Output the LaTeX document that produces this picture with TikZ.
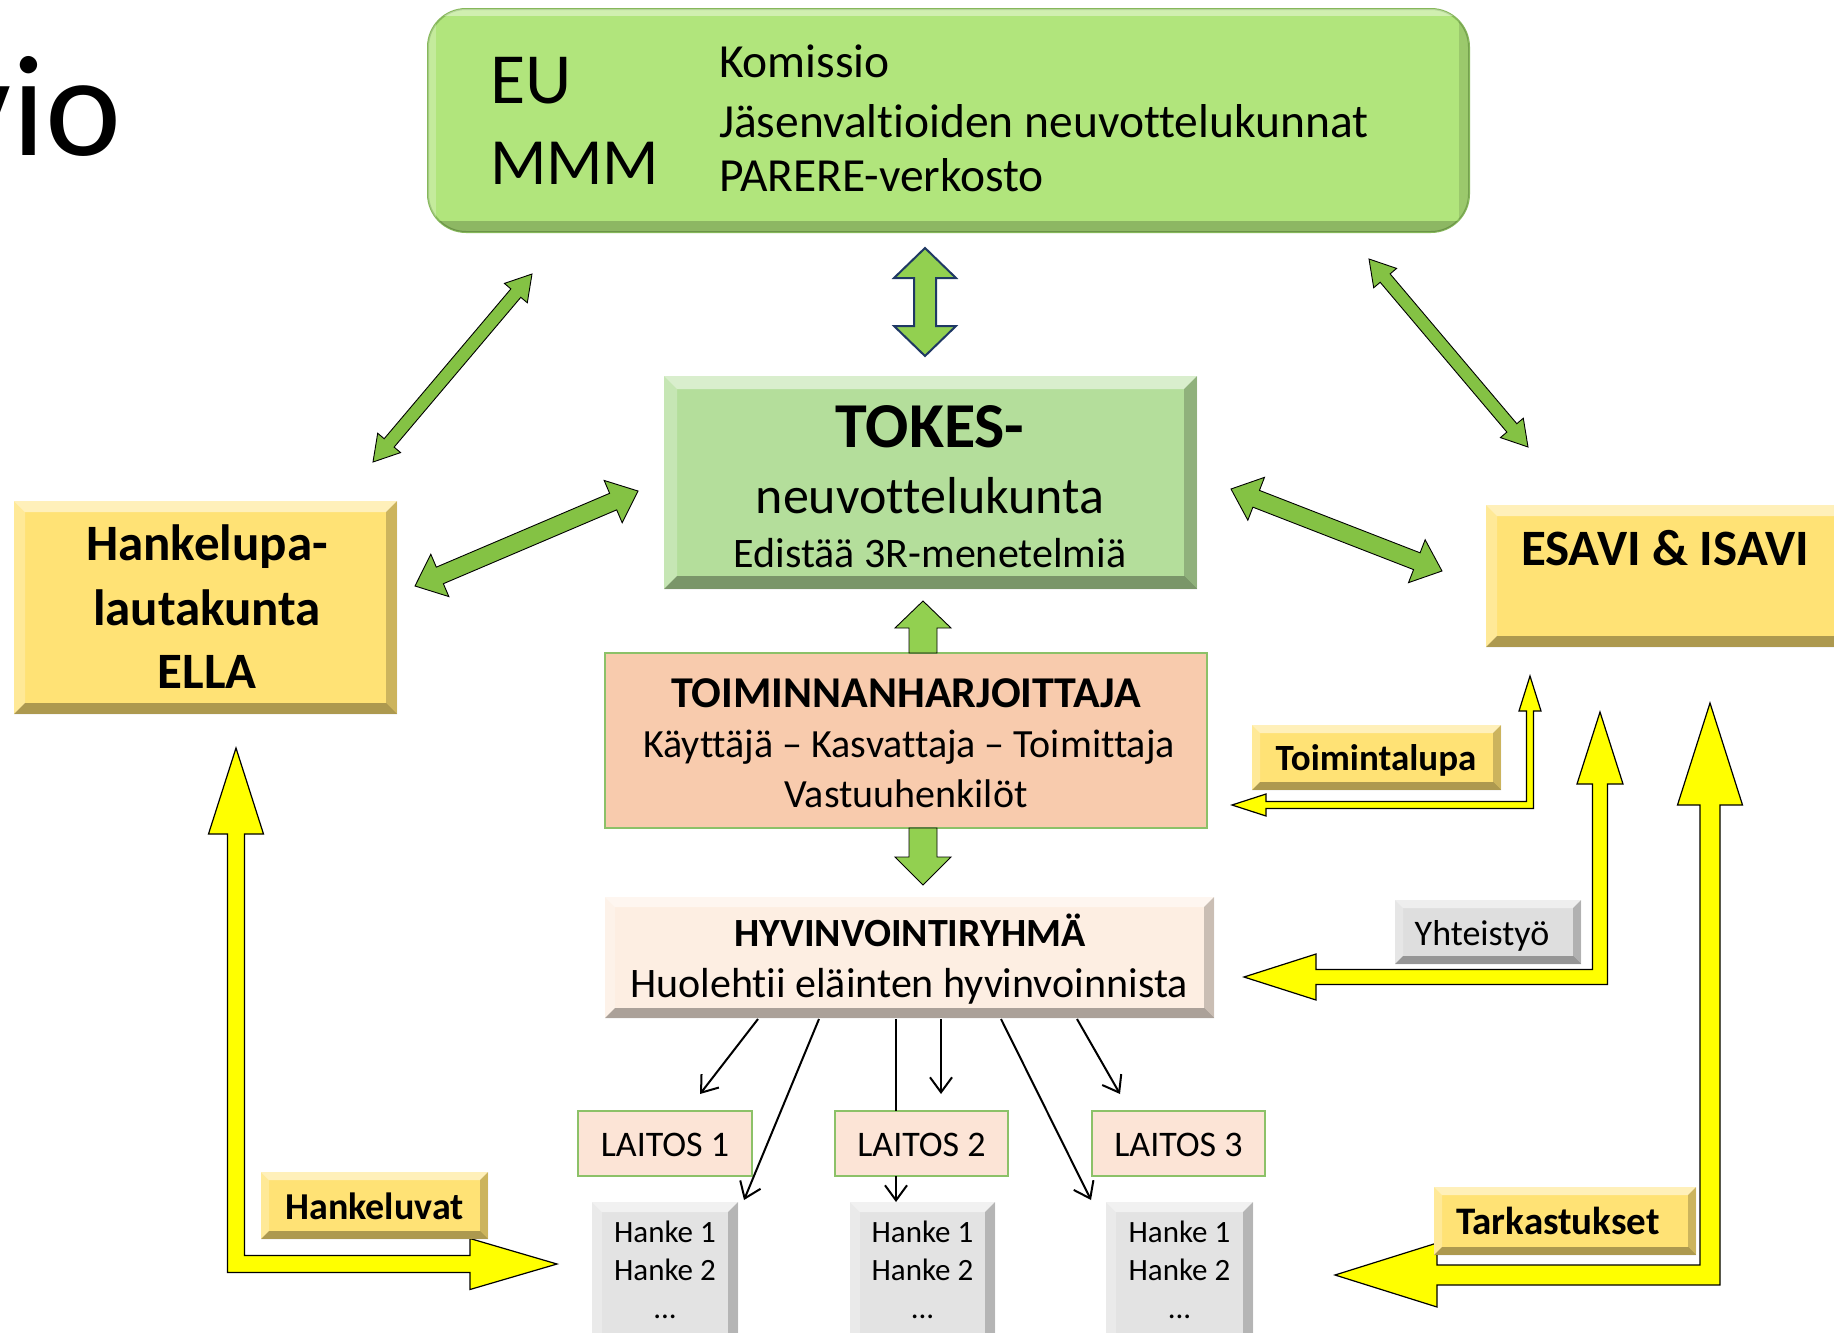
\documentclass[tikz,border=0pt]{standalone}
\usepackage{fontspec}
\setmainfont{Carlito}[Ligatures={NoCommon}]
\usetikzlibrary{calc,arrows.meta}

\definecolor{eugreen}{HTML}{B1E57C}
\definecolor{eudark}{HTML}{86B85A}
\definecolor{tokesgreen}{HTML}{B4DE9B}
\definecolor{arrgreen}{HTML}{84C244}
\definecolor{arrlight}{HTML}{92D050}
\definecolor{navy}{HTML}{1F3864}
\definecolor{gold}{HTML}{FFE275}
\definecolor{peach}{HTML}{F8CBAD}
\definecolor{lightpeach}{HTML}{FCE4D6}
\definecolor{cream}{HTML}{FDEEE2}
\definecolor{boxgreen}{HTML}{8CC168}
\definecolor{hgray}{HTML}{E3E3E3}
\definecolor{ygray}{HTML}{DEDEDE}
\definecolor{yel}{HTML}{FFFF00}

\newcommand\myfs[1]{\fontsize{#1}{#1}\selectfont}

% bevel overlay on a rectangular node
\newcommand\bevel[2]{%
  \fill[white,opacity=.5] (#1.north west) -- (#1.north east) -- ($(#1.north east)+(-#2,#2)$) -- ($(#1.north west)+(#2,#2)$) -- cycle;
  \fill[white,opacity=.25] (#1.north west) -- ($(#1.north west)+(#2,#2)$) -- ($(#1.south west)+(#2,-#2)$) -- (#1.south west) -- cycle;
  \fill[black,opacity=.32] (#1.south west) -- (#1.south east) -- ($(#1.south east)+(-#2,-#2)$) -- ($(#1.south west)+(#2,-#2)$) -- cycle;
  \fill[black,opacity=.2] (#1.north east) -- ($(#1.north east)+(-#2,#2)$) -- ($(#1.south east)+(-#2,-#2)$) -- (#1.south east) -- cycle;
}

% double block arrow: from, to, style, shaft half width, head half width, head length
\newcommand\dblarr[6]{%
  \pgfpointdiff{\pgfpointanchor{#1}{center}}{\pgfpointanchor{#2}{center}}%
  \pgfgetlastxy{\arrdx}{\arrdy}%
  \pgfmathsetmacro\arrlen{veclen(\arrdx,\arrdy)}%
  \pgfmathsetmacro\arrang{atan2(\arrdy,\arrdx)}%
  \begin{scope}[shift={(#1)},rotate=\arrang,x=1pt,y=1pt]
    \draw[#3] (0,0) -- (#6,#5) -- (#6,#4) -- (\arrlen-#6,#4) -- (\arrlen-#6,#5) -- (\arrlen,0)
      -- (\arrlen-#6,-#5) -- (\arrlen-#6,-#4) -- (#6,-#4) -- (#6,-#5) -- cycle;
  \end{scope}
}

% single block arrow: from, to (tip), style, shaft half width, head half width, head length
\newcommand\sglarr[6]{%
  \pgfpointdiff{\pgfpointanchor{#1}{center}}{\pgfpointanchor{#2}{center}}%
  \pgfgetlastxy{\arrdx}{\arrdy}%
  \pgfmathsetmacro\arrlen{veclen(\arrdx,\arrdy)}%
  \pgfmathsetmacro\arrang{atan2(\arrdy,\arrdx)}%
  \begin{scope}[shift={(#1)},rotate=\arrang,x=1pt,y=1pt]
    \draw[#3] (0,#4) -- (\arrlen-#6,#4) -- (\arrlen-#6,#5) -- (\arrlen,0)
      -- (\arrlen-#6,-#5) -- (\arrlen-#6,-#4) -- (0,-#4) -- cycle;
  \end{scope}
}

% elbow block arrow with heads at both ends
\newcommand\yelbow[9]{%
  \draw[yarr] (#1) -- ($(#1)+({(#4)*(#6)},#7)$) -- ($(#1)+({(#4)*(#5)},#7)$)
    -- ($(#2)+({(#4)*(#5)},{-(#5)})$) -- ($(#3)+({-(#4)*(#9)},{-(#5)})$)
    -- ($(#3)+({-(#4)*(#9)},{-(#8)})$) -- (#3) -- ($(#3)+({-(#4)*(#9)},#8)$)
    -- ($(#3)+({-(#4)*(#9)},#5)$) -- ($(#2)+({-(#4)*(#5)},#5)$)
    -- ($(#1)+({-(#4)*(#5)},#7)$) -- ($(#1)+({-(#4)*(#6)},#7)$) -- cycle;
}

\begin{document}
\begin{tikzpicture}[x=1pt,y=-1pt,
  tx/.style={inner sep=0pt, outer sep=0pt, anchor=base},
  box/.style={rectangle, inner sep=0pt, outer sep=0pt},
  flatbox/.style={box, draw=boxgreen, line width=1.2pt},
  garr/.style={fill=arrgreen, draw=black, line width=0.9pt, line join=miter},
  carr/.style={fill=arrlight, draw=navy, line width=2pt, line join=miter},
  varr/.style={fill=arrlight, draw=black, line width=0.9pt, line join=miter},
  yarr/.style={fill=yel, draw=black, line width=1.2pt, line join=miter},
  thinarr/.style={line width=2pt, -{Straight Barb[length=15pt,width=22pt]}},
  thinline/.style={line width=2pt},
]
\useasboundingbox (0,0) rectangle (1834,1333);
\fill[white] (0,0) rectangle (1834,1333);

% title fragment
\node[tx, anchor=base east, font=\myfs{144}] (title) at (121,155) {vio};

% ---------- EU box ----------
\node[box, rounded corners=38pt, fill=eugreen, draw=eudark, line width=2pt,
      minimum width=1041pt, minimum height=223pt] (eu) at (948.5,120.5) {};
\begin{scope}
  \clip[rounded corners=38pt] (428,9) rectangle (1469,232);
  \fill[black,opacity=.2] (428,221) rectangle (1469,232);
  \fill[black,opacity=.12] (1459,9) rectangle (1469,232);
  \fill[white,opacity=.4] (428,9) rectangle (1469,16);
  \fill[white,opacity=.25] (428,9) rectangle (436,232);
\end{scope}
\node[tx, anchor=base west, font=\myfs{72}] (eutxt) at (490,103) {EU};
\node[tx, anchor=base west, font=\myfs{66}] (mmm) at (490,184) {MMM};
\node[tx, anchor=base west, font=\myfs{47.5}] (kom) at (719,77) {Komissio};
\node[tx, anchor=base west, font=\myfs{47.5}] (jas) at (719,137) {Jäsenvaltioiden neuvottelukunnat};
\node[tx, anchor=base west, font=\myfs{47.5}] (par) at (719,191) {PARERE-verkosto};

% ---------- TOKES ----------
\node[box, fill=tokesgreen, minimum width=533pt, minimum height=213pt] (tokes) at (930.5,482.5) {};
\bevel{tokes}{13}
\node[tx, font=\myfs{64}\bfseries] (tok1) at (930,447) {TOKES-};
\node[tx, font=\myfs{52}] (tok2) at (930,513) {neuvottelukunta};
\node[tx, font=\myfs{42}] (tok3) at (930,567) {Edistää 3R-menetelmiä};

% ---------- ELLA ----------
\node[box, fill=gold, minimum width=383pt, minimum height=213pt] (ella) at (205.5,607.5) {};
\bevel{ella}{11}
\node[tx, font=\myfs{51}\bfseries] (ella1) at (207,560) {Hankelupa-};
\node[tx, font=\myfs{51}\bfseries] (ella2) at (207,625) {lautakunta};
\node[tx, font=\myfs{51}\bfseries] (ella3) at (207,688) {ELLA};

% ---------- ESAVI ----------
\node[box, fill=gold, minimum width=362pt, minimum height=142pt] (esavi) at (1667,576) {};
\bevel{esavi}{11}
\node[tx, font=\myfs{51}\bfseries] (esavitxt) at (1665,565) {ESAVI \& ISAVI};

% ---------- TOIMINNANHARJOITTAJA ----------
\node[flatbox, fill=peach, minimum width=602pt, minimum height=175pt] (toimi) at (906,740.5) {};
\node[tx, font=\myfs{44}\bfseries] (toi1) at (906,707) {TOIMINNANHARJOITTAJA};
\node[tx, font=\myfs{40}] (toi2) at (909,757) {Käyttäjä – Kasvattaja – Toimittaja};
\node[tx, font=\myfs{40}] (toi3) at (906,807) {Vastuuhenkilöt};

% ---------- HYVINVOINTIRYHMÄ ----------
\node[box, fill=cream, minimum width=609pt, minimum height=121pt] (hyv) at (909.5,957.5) {};
\bevel{hyv}{10}
\node[tx, font=\myfs{40}\bfseries] (hyv1) at (910,946) {HYVINVOINTIRYHMÄ};
\node[tx, font=\myfs{42}] (hyv2) at (909,997) {Huolehtii eläinten hyvinvoinnista};

% ---------- LAITOS ----------
\node[flatbox, fill=lightpeach, minimum width=174pt, minimum height=65pt] (lait1) at (665,1143.5) {};
\node[flatbox, fill=lightpeach, minimum width=173pt, minimum height=65pt] (lait2) at (921.5,1143.5) {};
\node[flatbox, fill=lightpeach, minimum width=173pt, minimum height=65pt] (lait3) at (1178.5,1143.5) {};
\node[tx, font=\myfs{36}] (lt1) at (665,1156) {LAITOS 1};
\node[tx, font=\myfs{36}] (lt2) at (921.5,1156) {LAITOS 2};
\node[tx, font=\myfs{36}] (lt3) at (1178.5,1156) {LAITOS 3};

% ---------- Hanke ----------
\foreach \nm/\cx/\w in {hanke1/665/146, hanke2/922.5/145, hanke3/1179.5/147}{
  \node[box, fill=hgray, minimum width=\w pt, minimum height=148pt] (\nm) at (\cx,1276) {};
  \bevel{\nm}{10}
  \node[tx, font=\myfs{31}] (\nm a) at (\cx,1242) {Hanke 1};
  \node[tx, font=\myfs{31}] (\nm b) at (\cx,1280) {Hanke 2};
  \node[tx, font=\myfs{31}] (\nm c) at (\cx,1318) {...};
}

% ---------- green block arrows ----------
\coordinate (gl1) at (373,462);  \coordinate (gl2) at (532,274);
\coordinate (gr1) at (1369,259); \coordinate (gr2) at (1528,447);
\coordinate (gc1) at (925,248);  \coordinate (gc2) at (925,356);
\coordinate (gh1) at (415,586);  \coordinate (gh2) at (638,491);
\coordinate (gk1) at (1231,489); \coordinate (gk2) at (1442,571);
\dblarr{gl1}{gl2}{garr}{6.5}{15}{25}
\dblarr{gr1}{gr2}{garr}{6.5}{15}{25}
\dblarr{gc1}{gc2}{carr}{11}{31}{30}
\dblarr{gh1}{gh2}{garr}{9}{23}{27}
\dblarr{gk1}{gk2}{garr}{9}{23}{27}

\coordinate (tu1) at ($(toimi.north)+(17,0)$); \coordinate (tu2) at (923,601);
\coordinate (td1) at ($(toimi.south)+(17,0)$); \coordinate (td2) at (923,885);
\sglarr{tu1}{tu2}{varr}{14}{28}{27}
\sglarr{td1}{td2}{varr}{14}{28}{28}

% ---------- thin arrows ----------
\coordinate (t1s) at (758,1019); \coordinate (t1e) at (700,1094);
\coordinate (t2s) at (819,1019); \coordinate (t2e) at (744,1200);
\coordinate (t3s) at (896,1019);
\coordinate (t4s) at (941,1019); \coordinate (t4e) at (941,1094);
\coordinate (t5s) at (1001,1019); \coordinate (t5e) at (1091,1200);
\coordinate (t6s) at (1077,1019); \coordinate (t6e) at (1120,1094);
\draw[thinarr] (t1s) -- (t1e);
\draw[thinarr] (t2s) -- (t2e);
\draw[thinline] (t3s) -- (t3s |- lait2.north);
\draw[thinarr] (t3s |- lait2.south) -- (t3s |- hanke2.north);
\draw[thinarr] (t4s) -- (t4e);
\draw[thinarr] (t5s) -- (t5e);
\draw[thinarr] (t6s) -- (t6e);

% ---------- yellow elbow arrows ----------
\coordinate (ya1) at (236,748);  \coordinate (yc1) at (236,1264);  \coordinate (yb1) at (557,1264);
\coordinate (ya2) at (1530,676); \coordinate (yc2) at (1530,805);  \coordinate (yb2) at (1232,805);
\coordinate (ya3) at (1600,712); \coordinate (yc3) at (1600,977);  \coordinate (yb3) at (1244,977);
\coordinate (ya4) at (1710,703); \coordinate (yc4) at (1710,1275); \coordinate (yb4) at (1335,1275);
\yelbow{ya1}{yc1}{yb1}{1}{8.5}{27.5}{86}{25.5}{87}
\yelbow{ya2}{yc2}{yb2}{-1}{3.5}{11}{35}{11}{34}
\yelbow{ya3}{yc3}{yb3}{-1}{7.5}{23}{72}{23}{72}
\yelbow{ya4}{yc4}{yb4}{-1}{10}{32.5}{102}{32}{102}

% ---------- labels ----------
\node[box, fill=gold, minimum width=227pt, minimum height=67pt] (lbhl) at (374.5,1205.5) {};
\bevel{lbhl}{8}
\node[tx, font=\myfs{38}\bfseries] (lbhltxt) at (374.5,1219) {Hankeluvat};

\node[box, fill=gold, minimum width=249pt, minimum height=65pt] (lbtl) at (1376.5,757.5) {};
\bevel{lbtl}{8}
\node[tx, font=\myfs{37}\bfseries] (lbtltxt) at (1376,770) {Toimintalupa};

\node[box, fill=ygray, minimum width=186pt, minimum height=64pt] (lbyh) at (1488,932) {};
\bevel{lbyh}{8}
\node[tx, font=\myfs{36}] (lbyhtxt) at (1482,945) {Yhteistyö};

\node[box, fill=gold, minimum width=262pt, minimum height=68pt] (lbtk) at (1565,1221) {};
\bevel{lbtk}{8}
\node[tx, font=\myfs{39}\bfseries] (lbtktxt) at (1558,1234) {Tarkastukset};

\end{tikzpicture}
\end{document}
